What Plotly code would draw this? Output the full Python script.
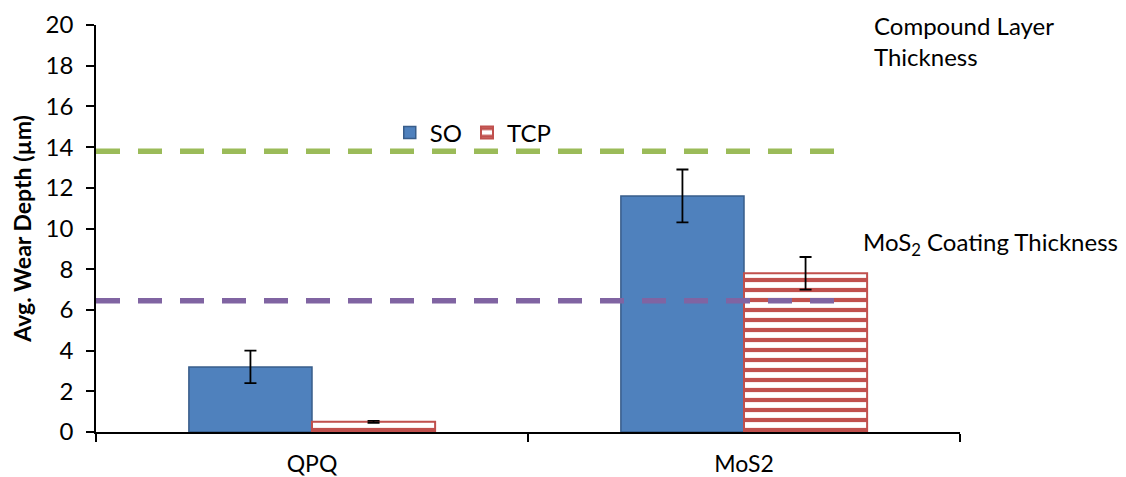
import plotly.graph_objects as go

# Wear depth by treatment, with standard deviations
categories = ["QPQ", "MoS2"]
so_depth = [3.2, 11.6]
so_err = [0.8, 1.3]
tcp_depth = [0.5, 7.8]
tcp_err = [0.05, 0.8]

# Reference thicknesses (µm)
compound_layer = 13.8
mos2_coating = 6.45

FONT = "Lato, 'Open Sans', sans-serif"

fig = go.Figure()
fig.add_bar(
    name="SO", x=categories, y=so_depth,
    marker=dict(color="#4F81BD", line=dict(color="#385D8A", width=1.5)),
    error_y=dict(type="data", array=so_err, color="black", thickness=1.8, width=6),
)
fig.add_bar(
    name="TCP", x=categories, y=tcp_depth,
    marker=dict(
        color="white",
        line=dict(color="#C0504D", width=2),
        pattern=dict(shape="-", fgcolor="#C0504D", bgcolor="white", fgopacity=1,
                     size=10, solidity=0.42, fillmode="replace"),
    ),
    error_y=dict(type="data", array=tcp_err, color="black", thickness=1.8, width=6),
)

# Horizontal reference lines for layer thicknesses
for level, colour, x_end in [(compound_layer, "#9BBB59", 1.25), (mos2_coating, "#8064A2", 1.24)]:
    fig.add_shape(type="line", xref="x", yref="y", x0=-0.5, x1=x_end,
                  y0=level, y1=level,
                  line=dict(color=colour, width=5.5, dash="24px,18px"), layer="above")

fig.add_annotation(text="Compound Layer<br>Thickness", xref="paper", yref="paper",
                   x=0.898, y=0.96, xanchor="left", yanchor="middle",
                   showarrow=False, align="left",
                   font=dict(size=24, color="black", family=FONT, lineposition="none"))
fig.add_annotation(text="MoS<sub>2</sub> Coating Thickness", xref="paper", yref="paper",
                   x=0.885, y=0.462, xanchor="left", yanchor="middle",
                   showarrow=False, align="left", font=dict(size=24, color="black", family=FONT))

fig.update_layout(
    width=1126, height=477,
    margin=dict(l=96, r=166, t=25, b=45),
    paper_bgcolor="white", plot_bgcolor="white",
    barmode="group", bargap=0.43, bargroupgap=0,
    font=dict(family=FONT, size=24, color="black"),
    legend=dict(orientation="h", x=0.34, y=0.735, xanchor="left", yanchor="middle",
                font=dict(size=24, family=FONT), bgcolor="rgba(0,0,0,0)",
                itemwidth=30, tracegroupgap=0),
    showlegend=True,
)
fig.update_xaxes(
    automargin=False,
    showline=True, linecolor="black", linewidth=1.5,
    ticks="outside", ticklen=8, tickcolor="black", tickwidth=1.5,
    tickson="boundaries", range=[-0.5, 1.5], ticklabelstandoff=11,
    tickfont=dict(size=23, family=FONT),
)
fig.update_yaxes(
    automargin=False,
    range=[0, 20], dtick=2, showgrid=False, zeroline=False,
    showline=True, linecolor="black", linewidth=1.5,
    ticks="outside", ticklen=8, tickcolor="black", tickwidth=1.5,
    ticklabelstandoff=8,
    tickfont=dict(size=24, family=FONT),
    title=dict(text="<b>Avg. Wear Depth (µm)</b>", font=dict(size=23, family=FONT), standoff=8),
)

fig.write_html("out.html")
